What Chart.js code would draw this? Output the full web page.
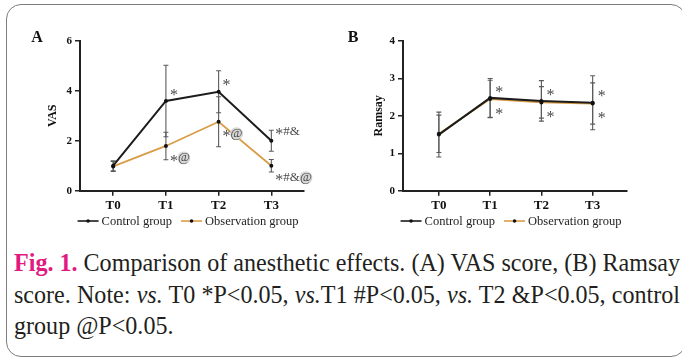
<!DOCTYPE html>
<html><head><meta charset="utf-8">
<script src="https://cdn.jsdelivr.net/npm/chart.js@4/dist/chart.umd.min.js"></script>
<style>
html,body{margin:0;padding:0;background:#fff;width:682px;height:359px;overflow:hidden;}
#frame{position:absolute;left:6px;top:4px;width:680px;height:353px;border:1.5px solid #7d7d7d;border-radius:15px;box-sizing:border-box;}
#pa{position:absolute;left:0;top:0;}
#pb{position:absolute;left:340px;top:0;}
.cap{position:absolute;left:14px;font-family:"Liberation Serif","Times New Roman",serif;font-size:25.5px;line-height:31.5px;color:#231f20;white-space:nowrap;transform-origin:0 0;}
.cap.j{text-align:justify;text-align-last:justify;}
.fig{color:#e2197f;font-weight:bold;}
</style></head>
<body>
<div id="frame"></div>
<canvas id="pa" width="340" height="240"></canvas>
<canvas id="pb" width="342" height="240"></canvas>
<div class="cap j" id="l1" style="top:247px"><span class="fig">Fig. 1.</span> Comparison of anesthetic effects. (A) VAS score, (B) Ramsay</div>
<div class="cap j" id="l2" style="top:278.5px">score. Note: <i>vs.</i> T0 *P&lt;0.05, <i>vs.</i>T1 #P&lt;0.05, <i>vs.</i> T2 &amp;P&lt;0.05, control</div>
<div class="cap" id="l3" style="top:310px">group @P&lt;0.05.</div>
<script>
// ---------- data ----------
const categories = ['T0', 'T1', 'T2', 'T3'];
const seriesNames = ['Control group', 'Observation group'];

const vasControl = [1.00, 3.59, 3.96, 2.00];
const vasControlSD = [0.20, 1.43, 0.84, 0.42];
const vasObservation = [0.97, 1.79, 2.76, 1.00];
const vasObservationSD = [0.20, 0.55, 1.00, 0.25];
const vasControlMarks = ['', '*', '*', '*#&'];
const vasObservationMarks = ['', '*@', '*@', '*#&@'];
const vasTicks = [0, 2, 4, 6];

const ramsayControl = [1.50, 2.48, 2.40, 2.35];
const ramsayControlSD = [0.60, 0.52, 0.54, 0.72];
const ramsayObservation = [1.52, 2.45, 2.36, 2.33];
const ramsayObservationSD = [0.50, 0.50, 0.42, 0.55];
const ramsayControlMarks = ['', '*', '*', '*'];
const ramsayObservationMarks = ['', '*', '*', '*'];
const ramsayTicks = [0, 1, 2, 3, 4];

// ---------- caption fitting ----------
(function(){
  const l1 = document.getElementById('l1');
  const w = l1.getBoundingClientRect().width;
  const s = 666 / w;
  ['l1','l2','l3'].forEach(id => {
    const el = document.getElementById(id);
    if (id !== 'l3') el.style.width = (666 / s) + 'px';
    el.style.transform = 'scaleX(' + s + ')';
  });
})();

// ---------- chart helpers ----------
const SERIF = '"Liberation Serif","Times New Roman",serif';
const CONTROL_COLOR = '#1c1c1c';
const OBS_COLOR = '#d99d48';
const AXIS_COLOR = '#222';

function toXY(arr) { return arr.map((v, i) => ({ x: i, y: v })); }

function overlay(letter, sds, marks) {
  return {
    id: 'overlay' + letter,
    beforeDatasetsDraw(chart) {
      const ctx = chart.ctx, xs = chart.scales.x, ys = chart.scales.y;
      ctx.save();
      ctx.strokeStyle = '#5a5a5a';
      ctx.lineWidth = 1.1;
      chart.data.datasets.forEach((ds, di) => {
        ds.data.forEach((p, i) => {
          const sd = sds[di][i];
          const x = xs.getPixelForValue(p.x);
          const yt = ys.getPixelForValue(p.y + sd);
          const yb = ys.getPixelForValue(p.y - sd);
          ctx.beginPath();
          ctx.moveTo(x, yt); ctx.lineTo(x, yb);
          ctx.moveTo(x - 2.5, yt); ctx.lineTo(x + 2.5, yt);
          ctx.moveTo(x - 2.5, yb); ctx.lineTo(x + 2.5, yb);
          ctx.stroke();
        });
      });
      ctx.restore();
    },
    afterDraw(chart) {
      const ctx = chart.ctx, xs = chart.scales.x, ys = chart.scales.y, ca = chart.chartArea;
      ctx.save();
      // significance marks
      ctx.textBaseline = 'middle';
      ctx.textAlign = 'left';
      chart.data.datasets.forEach((ds, di) => {
        ds.data.forEach((p, i) => {
          const txt = marks[di][i];
          if (!txt) return;
          let x = xs.getPixelForValue(p.x) + (letter === 'A' ? 4 : 5);
          const y = ys.getPixelForValue(p.y) + (di === 0 ? -9 : 12);
          for (const ch of txt) {
            ctx.font = (ch === '*' ? '16px ' : '13px ') + SERIF;
            const w = ctx.measureText(ch).width;
            if (ch === '@') {
              ctx.fillStyle = '#d6d6d6';
              ctx.beginPath(); ctx.arc(x + w / 2, y, 6.5, 0, Math.PI * 2); ctx.fill();
            }
            ctx.fillStyle = '#4a4a4a';
            ctx.fillText(ch, x, ch === '*' ? y + 3.5 : y);
            x += w;
          }
        });
      });
      // legend
      ctx.font = '12.5px ' + SERIF;
      const lineLen = 21, gap1 = 3, gap2 = 9;
      const widths = seriesNames.map(n => ctx.measureText(n).width);
      const total = 2 * (lineLen + gap1) + widths[0] + widths[1] + gap2;
      let lx = (ca.left + ca.right) / 2 - 4 - total / 2;
      const ly = 221;
      chart.data.datasets.forEach((ds, di) => {
        ctx.strokeStyle = ds.borderColor; ctx.lineWidth = 1.6;
        ctx.beginPath(); ctx.moveTo(lx, ly); ctx.lineTo(lx + lineLen, ly); ctx.stroke();
        ctx.fillStyle = '#111';
        ctx.beginPath(); ctx.arc(lx + lineLen / 2, ly, 1.8, 0, Math.PI * 2); ctx.fill();
        lx += lineLen + gap1;
        ctx.fillStyle = '#222';
        ctx.fillText(seriesNames[di], lx, ly + 0.5);
        lx += widths[di] + gap2;
      });
      // panel letter
      ctx.font = 'bold 16px ' + SERIF;
      ctx.fillStyle = '#111';
      ctx.textAlign = 'center';
      ctx.fillText(letter, letter === 'A' ? 37 : 13, 38);
      ctx.restore();
    }
  };
}

function makeChart(id, letter, ctrl, obs, sds, marks, yTicks, yTitle, opts) {
  return new Chart(document.getElementById(id), {
    type: 'line',
    data: {
      datasets: [
        { label: seriesNames[0], data: toXY(ctrl), borderColor: CONTROL_COLOR, borderWidth: 2,
          pointRadius: 2, pointBackgroundColor: '#111', pointBorderWidth: 0, tension: 0 },
        { label: seriesNames[1], data: toXY(obs), borderColor: OBS_COLOR, borderWidth: 1.8,
          pointRadius: 2, pointBackgroundColor: '#111', pointBorderWidth: 0, tension: 0 }
      ]
    },
    options: {
      responsive: false, animation: false, devicePixelRatio: 1,
      layout: { padding: { left: 0, top: opts.top, right: opts.right, bottom: 240 - opts.bottom - 30 } },
      plugins: { legend: { display: false }, tooltip: { enabled: false } },
      scales: {
        x: {
          type: 'linear', min: opts.xmin, max: opts.xmax,
          afterBuildTicks: s => { s.ticks = categories.map((c, i) => ({ value: i })); },
          afterFit: s => { s.height = 30; },
          ticks: { callback: v => categories[v], font: { family: SERIF, size: 13, weight: 'bold' },
                   color: '#111', padding: 2, maxRotation: 0, autoSkip: false },
          grid: { display: true, drawOnChartArea: false, drawTicks: true, tickLength: 5, color: AXIS_COLOR, lineWidth: 1.5 },
          border: { display: true, color: AXIS_COLOR, width: 2 }
        },
        y: {
          min: yTicks[0], max: yTicks[yTicks.length - 1],
          afterBuildTicks: s => { s.ticks = yTicks.map(v => ({ value: v })); },
          afterFit: s => { s.width = opts.left; },
          ticks: { font: { family: SERIF, size: 11, weight: 'bold' }, color: '#111', padding: 3 },
          grid: { display: true, drawOnChartArea: false, drawTicks: true, tickLength: 5, color: AXIS_COLOR, lineWidth: 1.5 },
          border: { display: true, color: AXIS_COLOR, width: 2 },
          title: { display: true, text: yTitle, font: { family: SERIF, size: 12, weight: 'bold' }, color: '#111',
                   padding: { top: opts.titleX - 7.2, bottom: 0 } }
        }
      }
    },
    plugins: [overlay(letter, sds, marks)]
  });
}

makeChart('pa', 'A', vasControl, vasObservation, [vasControlSD, vasObservationSD],
  [vasControlMarks, vasObservationMarks], vasTicks, 'VAS',
  { left: 80, right: 36, top: 40.7, bottom: 190.7, xmin: -0.63, xmax: 3.62, titleX: 53 });
makeChart('pb', 'B', ramsayControl, ramsayObservation, [ramsayControlSD, ramsayObservationSD],
  [ramsayControlMarks, ramsayObservationMarks], ramsayTicks, 'Ramsay',
  { left: 63, right: 55, top: 41, bottom: 190.7, xmin: -0.70, xmax: 3.67, titleX: 39 });
</script>
</body></html>
